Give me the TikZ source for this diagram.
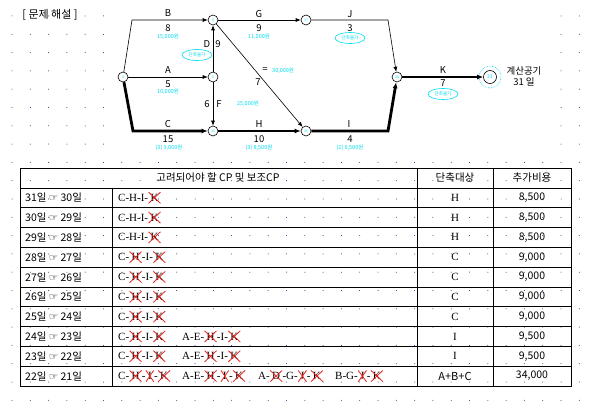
\documentclass[tikz,border=0pt]{standalone}
\usepackage{fontspec}
\setmainfont{Noto Sans CJK KR}
\newfontfamily\serifkr{Liberation Serif}
\newfontfamily\symfont{DejaVu Sans}
\usetikzlibrary{arrows.meta, positioning, shapes.geometric}
\definecolor{netcyan}{HTML}{00DDF0}
\definecolor{griddot}{HTML}{1C2A9C}
\definecolor{xred}{HTML}{E8231E}

% crossed-out activity letter
\newcommand\xo[1]{\tikz[baseline=(xo.base)]{%
  \node[inner sep=0pt, outer sep=0pt, anchor=center] (xo) {#1};
  \draw[xred, line width=0.8pt]
    ([shift={(-2pt,-2pt)}]xo.south west) -- ([shift={(2pt,2pt)}]xo.north east)
    ([shift={(-2pt,2pt)}]xo.north west) -- ([shift={(2pt,-2pt)}]xo.south east);}}

\tikzset{
  ev/.style={circle, draw, line width=0.6pt, minimum size=10pt, inner sep=0pt,
    font=\fontsize{3.5}{4}\selectfont, text=netcyan, fill=white},
  act/.style={line width=0.6pt, -{Latex[length=5pt, width=4pt]}},
  crit/.style={line width=2.8pt, -{Latex[length=6pt, width=5pt]}},
  lbl/.style={font=\fontsize{9.5}{10}\selectfont, inner sep=0pt},
  cost/.style={font=\fontsize{5.5}{6}\selectfont, text=netcyan, inner sep=0pt},
  nogo/.style={ellipse, draw=netcyan, line width=0.6pt, minimum width=30pt,
    minimum height=11pt, inner sep=0pt, font=\fontsize{4.5}{5}\selectfont, text=netcyan},
  cell/.style={font=\fontsize{10.5}{12}\selectfont, inner sep=0pt},
  cpcell/.style={font=\serifkr\fontsize{11}{12}\selectfont, inner sep=0pt, anchor=west}
}

\begin{document}
\begin{tikzpicture}[x=1pt, y=-1pt]
\useasboundingbox (0,0) rectangle (592,401);
\fill[white] (0,0) rectangle (592,401);

% Editor grid
\foreach \gx in {0,...,31}
  \foreach \gy in {0,...,21}
    \fill[griddot] (12+18.3*\gx, 16+18.3*\gy) circle (0.5);
\fill[white] (113,0) rectangle (548,157);

% Title
\node[font=\fontsize{11}{12}\selectfont, inner sep=0pt] (title) at (50,15) {[ 문제 해설 ]};

% ========== Network ==========
% Events
\node[ev] (s)  at (123,77)  {0};
\node[ev] (n2) at (213,20)  {8};
\node[ev] (n3) at (213,77)  {5};
\node[ev] (n4) at (213,131) {15};
\node[ev] (n5) at (306,20)  {17};
\node[ev] (n6) at (306,131) {25};
\node[ev] (n7) at (397,77)  {28};
\node[circle, draw=netcyan, densely dotted, line width=0.6pt, minimum size=22pt] (ring) at (490,77) {};
\node[ev, minimum size=13pt, font=\fontsize{5}{5}\selectfont] (n8) at (490,77) {31};

% Bends
\coordinate (bB) at (132,20);
\coordinate (bC) at (133,131);
\coordinate (bJ) at (388,20);
\coordinate (bI) at (388,131);

% Activities
\draw[act] (s) -- (bB) -- (n2);
\draw[act] (s) -- (n3);
\draw[crit] (s) -- (bC) -- (n4);
\draw[act] (n3) -- (n2);
\draw[act] (n3) -- (n4);
\draw[act] (n2) -- (n6);
\draw[act] (n2) -- (n5);
\draw[act] (n5) -- (bJ) -- (n7);
\draw[crit] (n4) -- (n6);
\draw[crit] (n6) -- (bI) -- (n7);
\draw[crit] (n7) -- (n8);

% Activity labels
\node[lbl] (lB) at (168,13) {B};
\node[lbl] (dB) at (168,28) {8};
\node[cost] (cB) at (168,37) {15,000원};
\node[lbl] (lA) at (168,70) {A};
\node[lbl] (dA) at (168,84) {5};
\node[cost] (cA) at (168,92) {10,000원};
\node[lbl] (lC) at (168,124) {C};
\node[lbl] (dC) at (168,139) {15};
\node[cost] (cC) at (169,148) {(3) 9,000원};
\node[lbl] (lD) at (207,44) {D};
\node[lbl] (dD) at (218,44) {9};
\node[nogo] (eD) at (197,55) {단축불가};
\node[lbl] (dF) at (207,104) {6};
\node[lbl] (lF) at (219,104) {F};
\node[cost] (cF) at (248,104) {25,000원};
\node[lbl] (lE) at (265,70) {=};
\node[cost, anchor=west] (cE) at (272,71) {30,000원};
\node[lbl] (dE) at (258,82) {7};
\node[lbl] (lG) at (259,14) {G};
\node[lbl] (dG) at (259,28) {9};
\node[cost] (cG) at (259,37) {11,000원};
\node[lbl] (lH) at (259,124) {H};
\node[lbl] (dH) at (259,139) {10};
\node[cost] (cH) at (259,148) {(3) 8,500원};
\node[lbl] (lJ) at (350,14) {J};
\node[lbl] (dJ) at (350,28) {3};
\node[nogo] (eJ) at (350,38) {단축불가};
\node[lbl] (lI) at (349,124) {I};
\node[lbl] (dI) at (350,139) {4};
\node[cost] (cI) at (350,148) {(2) 9,500원};
\node[lbl] (lK) at (443,70) {K};
\node[lbl] (dK) at (443,83) {7};
\node[nogo] (eK) at (443,94) {단축불가};
\node[font=\fontsize{9.5}{10}\selectfont, inner sep=0pt] (total) at (524,71) {계산공기};
\node[font=\fontsize{9.5}{10}\selectfont, inner sep=0pt] (days) at (524,82) {31 일};

% ========== Table ==========
\draw[line width=0.8pt] (20,188) -- (571,188);
\node[cell] (hcp) at (218,178) {고려되어야 할 CP 및 보조CP};
\node[cell] (htg) at (455,178) {단축대상};
\node[cell] (hco) at (532,178) {추가비용};

\foreach \r/\from/\to/\cp/\tgt/\amt in {
  1/31/30/{C-H-I-\xo{K}}/H/{8,500},
  2/30/29/{C-H-I-\xo{K}}/H/{8,500},
  3/29/28/{C-H-I-\xo{K}}/H/{8,500},
  4/28/27/{C-\xo{H}-I-\xo{K}}/C/{9,000},
  5/27/26/{C-\xo{H}-I-\xo{K}}/C/{9,000},
  6/26/25/{C-\xo{H}-I-\xo{K}}/C/{9,000},
  7/25/24/{C-\xo{H}-I-\xo{K}}/C/{9,000},
  8/24/23/{\makebox[64pt][l]{C-\xo{H}-I-\xo{K}}A-E-\xo{H}-I-\xo{K}}/I/{9,500},
  9/23/22/{\makebox[64pt][l]{C-\xo{H}-I-\xo{K}}A-E-\xo{H}-I-\xo{K}}/I/{9,500},
  10/22/21/{\makebox[64pt][l]{C-\xo{H}-\xo{I}-\xo{K}}\makebox[76pt][l]{A-E-\xo{H}-\xo{I}-\xo{K}}\makebox[77pt][l]{A-\xo{D}-G-\xo{J}-\xo{K}}B-G-\xo{J}-\xo{K}}/{\fontspec{Noto Sans CJK KR}A+B+C}/{34,000}}
{
  \pgfmathsetmacro{\yc}{168+19.82*(\r+0.5)}
  \node[cell, anchor=west] (d\r) at (25,\yc) {{\from}일 {\symfont ☞} {\to}일};
  \node[cpcell] (p\r) at (118,\yc) {\cp};
  \node[cell, font=\serifkr\fontsize{11}{12}\selectfont] (t\r) at (455,\yc) {\tgt};
  \node[cell] (c\r) at (532,\yc) {\amt};
  \draw[line width=0.8pt] (20,\yc+9.91) -- (571,\yc+9.91);
}

\draw[line width=0.8pt] (112,188) -- (112,386);
\draw[line width=0.8pt] (417,168) -- (417,386);
\draw[line width=0.8pt] (493,168) -- (493,386);
\draw[line width=0.9pt] (20,168) rectangle (571,386);

\end{tikzpicture}
\end{document}
